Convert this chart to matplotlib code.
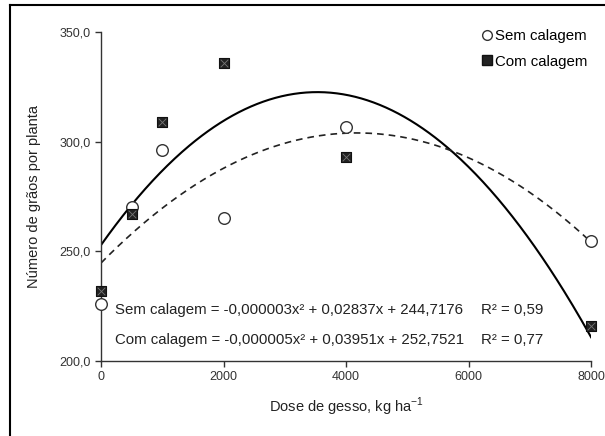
import numpy as np
import matplotlib
matplotlib.use("Agg")
import matplotlib.pyplot as plt
from matplotlib.lines import Line2D

plt.rcParams['font.family'] = ['Liberation Sans', 'DejaVu Sans']

doses = [0, 500, 1000, 2000, 4000, 8000]
sem_calagem = [226.0, 270.0, 296.3, 265.0, 306.6, 254.5]
com_calagem = [232.0, 266.8, 309.0, 336.0, 292.8, 216.0]
xticks = [0, 2000, 4000, 6000, 8000]
yticks = [200, 250, 300, 350]
eq_sem = "Sem calagem = -0,000003x² + 0,02837x + 244,7176"
eq_com = "Com calagem = -0,000005x² + 0,03951x + 252,7521"
r2_sem = "R² = 0,59"
r2_com = "R² = 0,77"

fig = plt.figure(figsize=(6.05, 4.36), dpi=100)
ax = fig.add_axes([0.167, 0.172, 0.810, 0.7546])

xs = np.linspace(0, 8000, 400)
p_sem = np.polyfit(doses, sem_calagem, 2)
p_com = np.polyfit(doses, com_calagem, 2)
ax.plot(xs, np.polyval(p_com, xs), color='black', lw=1.5, zorder=2)
ax.plot(xs, np.polyval(p_sem, xs), color='#222222', lw=1.2, ls=(0, (4, 3)), zorder=2)

ax.scatter(doses, sem_calagem, s=70, facecolors='white', edgecolors='#333333',
           linewidths=1.0, zorder=3, clip_on=False)
ax.scatter(doses, com_calagem, s=55, marker='s', facecolors='#222222',
           edgecolors='#111111', linewidths=0.8, zorder=3, clip_on=False)
ax.scatter(doses, com_calagem, s=30, marker='x', color='#777777',
           linewidths=0.6, zorder=4, clip_on=False)

ax.set_xlim(0, 8000)
ax.set_ylim(200, 350)
ax.set_xticks(xticks)
ax.set_yticks(yticks)
ax.set_yticklabels([f"{v:.1f}".replace('.', ',') for v in yticks])
ax.tick_params(axis='both', direction='out', length=4, width=1, colors='#333333',
               labelsize=9, labelcolor='#333333')
ax.tick_params(axis='x', pad=3)
for s in ['top', 'right']:
    ax.spines[s].set_visible(False)
for s in ['left', 'bottom']:
    ax.spines[s].set_color('#333333')
    ax.spines[s].set_linewidth(1.0)

ax.set_xlabel("Dose de gesso, kg ha$^{\\mathregular{-1}}$", fontsize=10.5, color='#222222',
              labelpad=9)
ax.set_ylabel("Número de grãos por planta", fontsize=10.5, color='#222222', labelpad=13)

fs_eq = 10.8
ax.text(0.029, 0.155, eq_sem, transform=ax.transAxes, fontsize=fs_eq, color='#222222', va='center')
ax.text(0.029, 0.064, eq_com, transform=ax.transAxes, fontsize=fs_eq, color='#222222', va='center')
ax.text(0.776, 0.155, r2_sem, transform=ax.transAxes, fontsize=fs_eq, color='#222222', va='center')
ax.text(0.776, 0.064, r2_com, transform=ax.transAxes, fontsize=fs_eq, color='#222222', va='center')

handles = [Line2D([], [], ls='none', marker='o', markersize=7, markerfacecolor='white',
                  markeredgecolor='#333333'),
           Line2D([], [], ls='none', marker='s', markersize=7, markerfacecolor='#222222',
                  markeredgecolor='#111111')]
ax.legend(handles, ["Sem calagem", "Com calagem"], loc='upper right',
          bbox_to_anchor=(1.01, 1.035), frameon=False, fontsize=10.8, handletextpad=0.0,
          handlelength=1.0, labelspacing=0.75, borderaxespad=0.2)

# outer frame lines (left and top)
fig.add_artist(Line2D([10/605, 10/605], [0, 1 - 5/436], transform=fig.transFigure,
                      color='black', lw=1.5))
fig.add_artist(Line2D([10/605, 1], [1 - 5/436, 1 - 5/436], transform=fig.transFigure,
                      color='black', lw=1.5))

fig.savefig("out.png", dpi=100)
